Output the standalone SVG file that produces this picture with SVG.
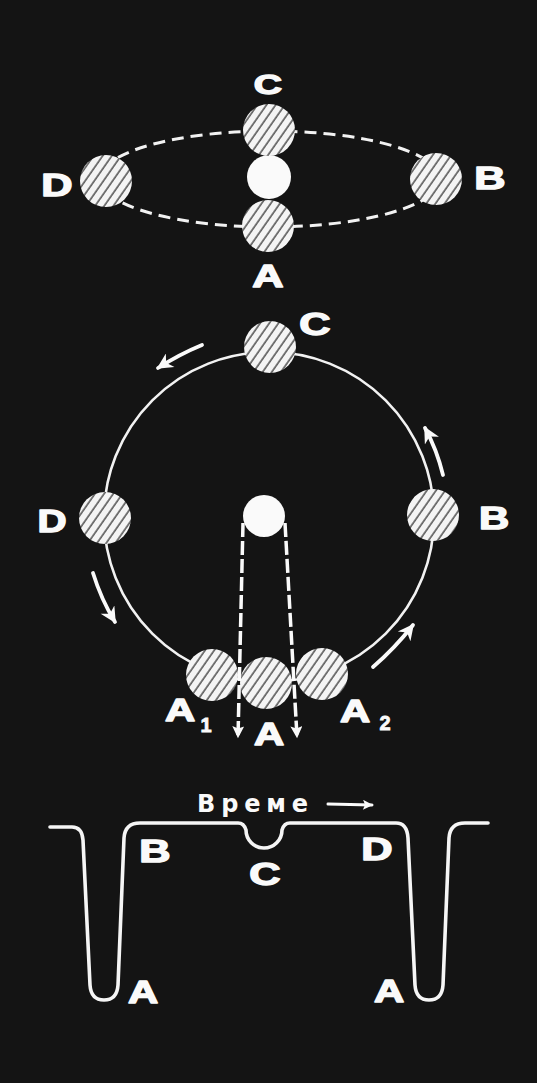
<svg xmlns="http://www.w3.org/2000/svg" width="537" height="1083" viewBox="0 0 537 1083">
  <style>
    .lbl { font-family: "Liberation Sans", Arial, sans-serif; font-weight: bold; font-size: 31px; fill: #fafafa; stroke: #fafafa; stroke-width: 1.4; stroke-linejoin: round; text-anchor: middle; }
    .sub { font-family: "Liberation Sans", Arial, sans-serif; font-weight: bold; font-size: 20px; fill: #fafafa; stroke: #fafafa; stroke-width: 0.8; text-anchor: middle; }
    .hand { font-family: "DejaVu Sans", "Liberation Sans", sans-serif; font-weight: bold; font-size: 24px; fill: #fafafa; }
    .moon { fill: url(#hatch); }
    .earth { fill: #fafafa; }
    .orbit { fill: none; stroke: #f2f2f2; stroke-width: 2.6; }
    .dashorbit { fill: none; stroke: #f2f2f2; stroke-width: 3; stroke-dasharray: 12 7; }
    .move { fill: none; stroke: #fafafa; stroke-width: 3.8; stroke-linecap: round; marker-end: url(#head); }
    .fall { fill: none; stroke: #fafafa; stroke-width: 3.5; stroke-dasharray: 14 4; marker-end: url(#longhead); }
    .curve { fill: none; stroke: #f5f5f5; stroke-width: 3.6; stroke-linejoin: round; stroke-linecap: round; }
  </style>
  <defs>
    <pattern id="hatch" patternUnits="userSpaceOnUse" width="7.5" height="7.5" patternTransform="rotate(35)">
      <rect width="7.5" height="7.5" fill="#f4f4f4"/>
      <line x1="1" y1="0" x2="1" y2="7.5" stroke="#141414" stroke-width="1.1"/>
    </pattern>
    <marker id="head" markerUnits="userSpaceOnUse" viewBox="0 0 10 10" refX="9" refY="5" markerWidth="20" markerHeight="16" orient="auto">
      <path d="M0,0 L10,5 L0,10 L3,5 Z" fill="#fafafa"/>
    </marker>
    <marker id="longhead" markerUnits="userSpaceOnUse" viewBox="0 0 10 10" refX="9" refY="5" markerWidth="24" markerHeight="12" orient="auto">
      <path d="M0,0 L10,5 L0,10 L2,5 Z" fill="#fafafa"/>
    </marker>
    <marker id="smallhead" markerUnits="userSpaceOnUse" viewBox="0 0 10 10" refX="9" refY="5" markerWidth="14" markerHeight="10" orient="auto">
      <path d="M0,0 L10,5 L0,10 L2,5 Z" fill="#fafafa"/>
    </marker>
  </defs>

  <rect width="537" height="1083" fill="#141414"/>

  <!-- Top view: Moon orbit seen edge-on -->
  <g id="connectors-top">
    <ellipse class="dashorbit" cx="270" cy="179" rx="170" ry="48"/>
  </g>
  <g id="top-earth"><circle class="earth" cx="269" cy="177" r="22"/></g>
  <g id="top-moon-c">
    <circle class="moon" cx="269" cy="130" r="26"/>
    <text class="lbl" transform="translate(268,94) scale(1.4,1)" style="font-size:28px">C</text>
  </g>
  <g id="top-moon-a">
    <circle class="moon" cx="268" cy="226" r="26"/>
    <text class="lbl" transform="translate(268,287) scale(1.4,1)">A</text>
  </g>
  <g id="top-moon-d">
    <circle class="moon" cx="106" cy="181" r="26"/>
    <text class="lbl" transform="translate(57,196) scale(1.4,1)">D</text>
  </g>
  <g id="top-moon-b">
    <circle class="moon" cx="436" cy="179" r="26"/>
    <text class="lbl" transform="translate(490,189) scale(1.4,1)">B</text>
  </g>

  <!-- Middle view: orbit seen from above -->
  <g id="connectors-middle">
    <circle class="orbit" cx="269" cy="517" r="165"/>
    <path class="move" d="M202,345 Q180,354 158,368"/>
    <path class="move" d="M443,475 Q437,450 425,428"/>
    <path class="move" d="M93,573 Q101,599 115,622"/>
    <path class="move" d="M373,667 Q395,648 413,625"/>
  </g>
  <g id="mid-moon-c">
    <circle class="moon" cx="270" cy="347" r="26"/>
    <text class="lbl" transform="translate(315,335) scale(1.4,1)">C</text>
  </g>
  <g id="mid-moon-d">
    <circle class="moon" cx="105" cy="518" r="26"/>
    <text class="lbl" transform="translate(52,532) scale(1.3,1)">D</text>
  </g>
  <g id="mid-moon-b">
    <circle class="moon" cx="433" cy="515" r="26"/>
    <text class="lbl" transform="translate(494,529) scale(1.35,1)">B</text>
  </g>
  <g id="mid-earth"><circle class="earth" cx="264" cy="516" r="21"/></g>
  <g id="mid-moon-a1">
    <circle class="moon" cx="212" cy="675" r="26"/>
    <text class="lbl" transform="translate(180,721) scale(1.35,1)">A</text>
    <text class="sub" x="206" y="732">1</text>
  </g>
  <g id="mid-moon-a">
    <circle class="moon" cx="266" cy="683" r="26"/>
    <text class="lbl" transform="translate(269,745) scale(1.35,1)">A</text>
  </g>
  <g id="mid-moon-a2">
    <circle class="moon" cx="322" cy="674" r="26"/>
    <text class="lbl" transform="translate(355,722) scale(1.35,1)">A</text>
    <text class="sub" x="385" y="730">2</text>
  </g>
  <g id="connectors-fall">
    <path class="fall" d="M243,523 L238,737"/>
    <path class="fall" d="M285,523 L297,737"/>
  </g>

  <!-- Bottom: tidal height over time -->
  <g id="tide-curve">
    <path class="curve" d="M50,827 L72,827 Q82,827 83,840 L90,985 Q91,1000 104,1000 Q117,1000 118,985 L124,838 Q125,823 140,823 L238,823 Q244,823 246,830 A18,18 0 0 0 282,830 Q284,823 290,823 L396,823 Q407,823 408,838 L415,985 Q416,1000 429,1000 Q442,1000 443,985 L449,838 Q450,823 465,823 L488,823"/>
  </g>
  <g id="time-axis">
    <text class="hand" x="197" y="812" textLength="111" lengthAdjust="spacing">Време</text>
    <path d="M328,804 L372,805" fill="none" stroke="#fafafa" stroke-width="3" stroke-linecap="round" marker-end="url(#smallhead)"/>
  </g>
  <g id="tide-labels">
    <text class="lbl" transform="translate(155,862) scale(1.4,1)">B</text>
    <text class="lbl" transform="translate(265,885) scale(1.4,1)">C</text>
    <text class="lbl" transform="translate(377,860) scale(1.4,1)">D</text>
    <text class="lbl" transform="translate(143,1003) scale(1.35,1)">A</text>
    <text class="lbl" transform="translate(389,1002) scale(1.35,1)">A</text>
  </g>
</svg>
